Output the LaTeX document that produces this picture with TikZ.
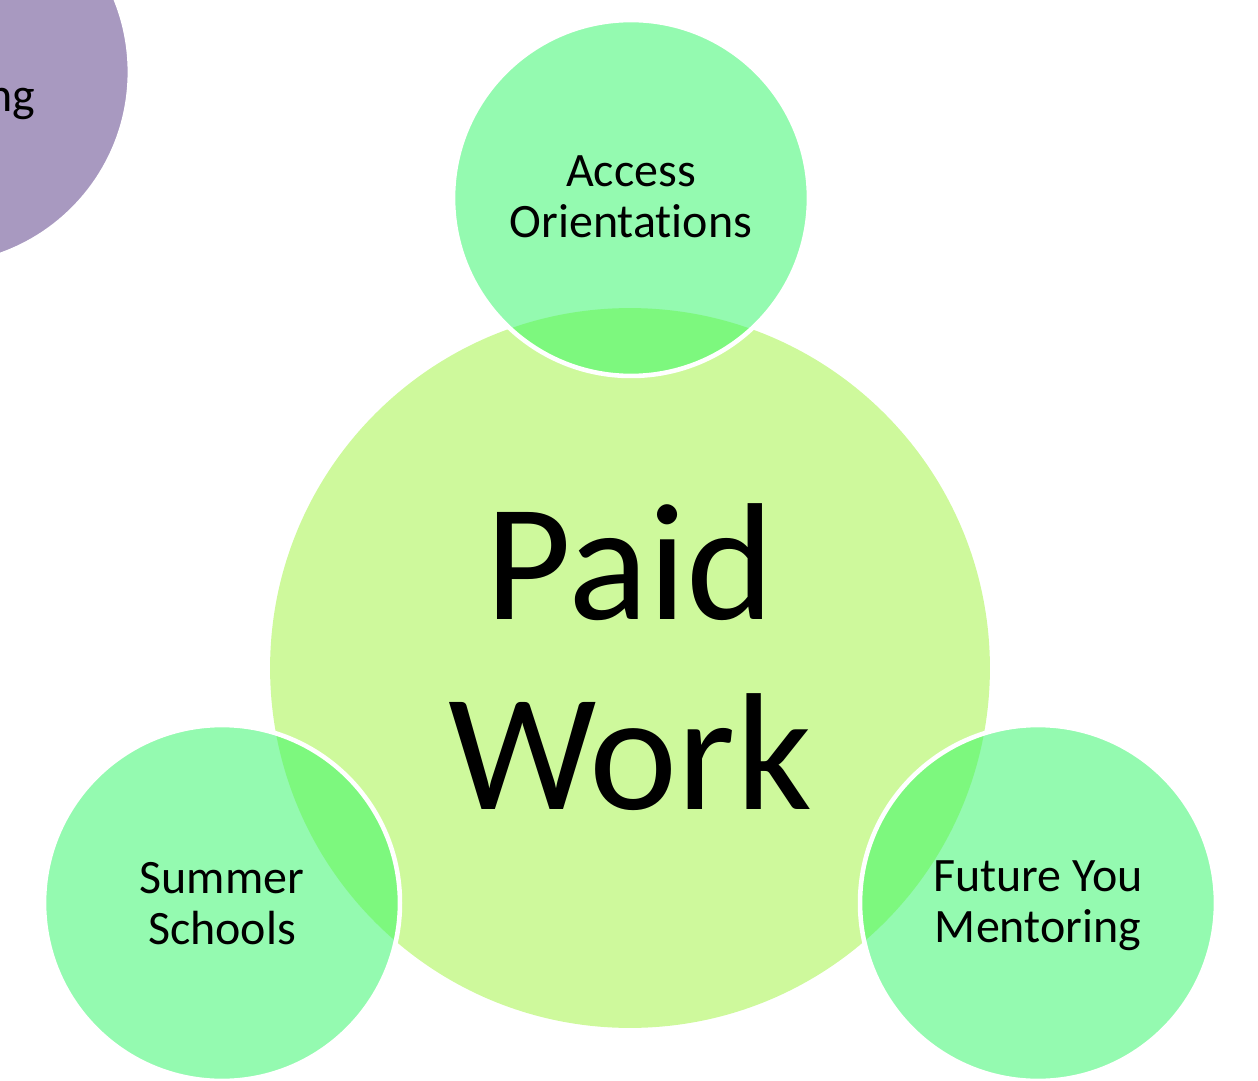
\documentclass[tikz,border=0pt]{standalone}
\usepackage{fontspec}
\setmainfont[RawFeature={-liga;-clig;-dlig}]{Carlito}
\definecolor{bigfill}{HTML}{CEF99C}
\definecolor{smallfill}{HTML}{94FAB0}
\definecolor{overlapfill}{HTML}{7DF87E}
\definecolor{purplefill}{HTML}{A899C0}
\begin{document}
\begin{tikzpicture}[x=0.02cm,y=-0.02cm,
  hub/.style={circle,fill=bigfill,minimum size=14.4cm,inner sep=0pt},
  spoke/.style={circle,fill=smallfill,minimum size=7.12cm,inner sep=0pt},
  rim/.style={draw=white,line width=2.6pt},
  smalltext/.style={font=\fontsize{27.3}{29}\selectfont,align=center,text=black},
  bigtext/.style={font=\fontsize{95}{108}\selectfont,align=center,text=black}]
\useasboundingbox (0,0) rectangle (1258,1081);
\begin{scope}
\clip (0,0) rectangle (1258,1081);
% partly visible neighbour circle
\node[circle,fill=purplefill,draw=white,line width=1pt,minimum size=7.7cm,inner sep=0pt] (prev) at (-64,72) {};
\node[smalltext,anchor=base east] (prevlabel) at (41,112) {ng};
% central circle
\node[hub] (hub) at (630,668) {};
% satellite circles
\node[spoke] (top) at (631,198) {};
\node[spoke] (left) at (222,903) {};
\node[spoke] (right) at (1038,903) {};
% darker lens where each satellite overlaps the centre
\begin{scope}
\clip (630,668) circle [radius=7.2cm];
\fill[overlapfill] (631,198) circle [radius=3.56cm];
\fill[overlapfill] (222,903) circle [radius=3.56cm];
\fill[overlapfill] (1038,903) circle [radius=3.56cm];
\end{scope}
\draw[rim] (631,198) circle [radius=3.56cm];
\draw[rim] (222,903) circle [radius=3.56cm];
\draw[rim] (1038,903) circle [radius=3.56cm];
\end{scope}
% labels
\node[bigtext] (hublabel) at (630,657) {Paid\\Work};
\node[smalltext] (toplabel) at (631,197) {Access\\Orientations};
\node[smalltext] (leftlabel) at (222,904) {Summer\\Schools};
\node[smalltext] (rightlabel) at (1038,906) {Future You\\Mentoring};
\end{tikzpicture}
\end{document}
